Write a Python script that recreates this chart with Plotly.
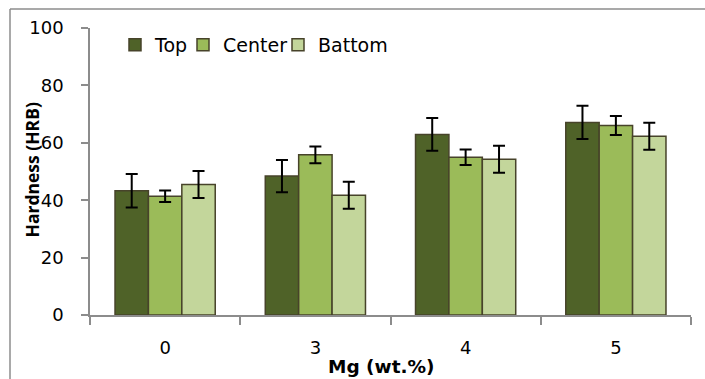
import plotly.graph_objects as go

# Mg content categories (wt.%)
mg_levels = ["0", "3", "4", "5"]

# Hardness (HRB) by sampling position
top_vals = [43.3, 48.4, 62.9, 67.1]
center_vals = [41.4, 55.8, 55.0, 66.0]
bottom_vals = [45.5, 41.7, 54.3, 62.3]

# Error bar half-widths (HRB)
top_err = [5.8, 5.6, 5.7, 5.8]
center_err = [2.0, 2.9, 2.7, 3.3]
bottom_err = [4.7, 4.7, 4.7, 4.7]

series_names = ["Top", "Center", "Battom"]
series_colors = ["#4F6228", "#9BBB59", "#C3D69B"]

FONT = "DejaVu Sans"
AXIS_GRAY = "#8C8C8C"

# plot area: x 90..691 px, y 28..315 px
L, R, T, B = 90, 14, 28, 64
W, H = 705, 379
pw = W - L - R
ph = H - T - B

def px_x(p):
    return (p - L) / pw

def px_y(p):
    return (H - B - p) / ph

# each series gets its own one-entry legend, laid out in a row
legend_ids = ["legend", "legend2", "legend3"]
legend_left = [115, 183, 278]

fig = go.Figure()
for name, vals, errs, color, lg in zip(
    series_names,
    [top_vals, center_vals, bottom_vals],
    [top_err, center_err, bottom_err],
    series_colors,
    legend_ids,
):
    fig.add_trace(
        go.Bar(
            x=mg_levels,
            y=vals,
            name=name,
            legend=lg,
            showlegend=True,
            marker=dict(color=color, line=dict(color="#47432A", width=1.5)),
            error_y=dict(type="data", array=errs, visible=True,
                         color="black", thickness=2, width=6),
        )
    )

legend_style = dict(
    orientation="h",
    xanchor="left",
    y=px_y(45), yanchor="middle",
    font=dict(family=FONT, size=19, color="black"),
    bgcolor="rgba(0,0,0,0)",
)
legend_layout = {
    lg: dict(legend_style, x=px_x(xl))
    for lg, xl in zip(legend_ids, legend_left)
}

# outer frame (left and top edges)
fx = px_x(10)
fy = px_y(9)
fig.add_shape(type="line", xref="paper", yref="paper",
              x0=fx, x1=fx, y0=-0.5, y1=fy,
              line=dict(color=AXIS_GRAY, width=1.5))
fig.add_shape(type="line", xref="paper", yref="paper",
              x0=fx, x1=1.2, y0=fy, y1=fy,
              line=dict(color=AXIS_GRAY, width=1.5))

# axis titles
fig.add_annotation(
    text="<b>Hardness (HRB)</b>", xref="paper", yref="paper",
    x=px_x(31.5), y=px_y(170), xanchor="center", yanchor="middle",
    textangle=-90, showarrow=False,
    font=dict(family="Open Sans", size=17.5, color="black"),
)
fig.add_annotation(
    text="<b>Mg (wt.%)</b>", xref="paper", yref="paper",
    x=px_x(381), y=px_y(366), xanchor="center", yanchor="middle",
    showarrow=False,
    font=dict(family=FONT, size=18.5, color="black"),
)

fig.update_layout(
    width=W, height=H,
    margin=dict(l=L, r=R, t=T, b=B),
    paper_bgcolor="white",
    plot_bgcolor="white",
    showlegend=True,
    barmode="group",
    bargap=0.333,
    bargroupgap=0,
    font=dict(family=FONT, size=18, color="black"),
    **legend_layout,
    xaxis=dict(
        type="category",
        showline=True, linecolor=AXIS_GRAY, linewidth=1.5,
        ticks="outside", tickson="boundaries", ticklen=8,
        tickcolor=AXIS_GRAY, tickwidth=1.5,
        ticklabelstandoff=16,
        showgrid=False,
        tickfont=dict(family=FONT, size=18),
    ),
    yaxis=dict(
        range=[0, 100], dtick=20,
        showline=True, linecolor=AXIS_GRAY, linewidth=1.5,
        ticks="outside", ticklen=7, tickcolor=AXIS_GRAY, tickwidth=1.5,
        ticklabelstandoff=14,
        showgrid=False, zeroline=False,
        tickfont=dict(family=FONT, size=18),
    ),
)

fig.write_html("out.html")
